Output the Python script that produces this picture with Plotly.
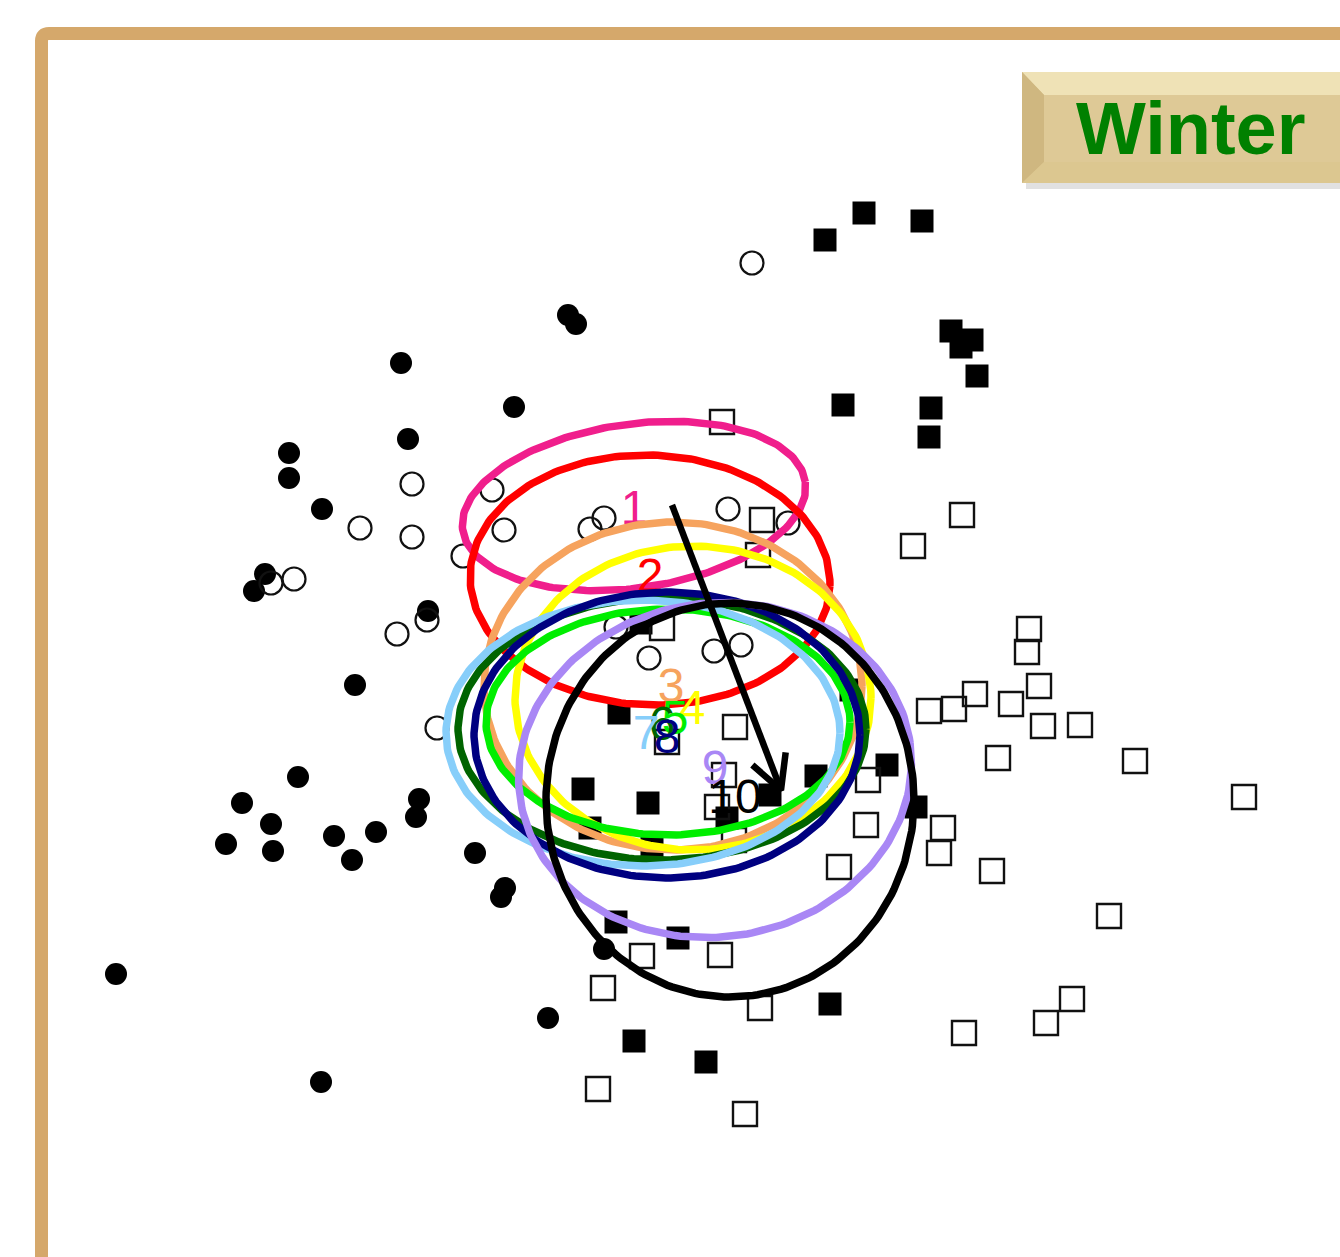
import numpy as np
import plotly.graph_objects as go

W, H = 1340, 1257
OFF = 0  # body margin removed via post_script, so plot units equal screen pixels

# ---------------- data (plot units) ----------------
filled_circle_x = [568, 576, 401, 514, 408, 289, 289, 322, 265, 254, 428, 355, 298, 242, 419, 416,
                   271, 226, 273, 334, 352, 376, 475, 505, 501, 604, 116, 548, 321]
filled_circle_y = [315, 324, 363, 407, 439, 453, 478, 509, 574, 591, 611, 685, 777, 803, 799, 817,
                   824, 844, 851, 836, 860, 832, 853, 888, 897, 949, 974, 1018, 1082]

open_circle_x = [752, 412, 492, 360, 412, 504, 590, 604, 728, 788, 463, 271, 294, 397, 427,
                 616, 649, 714, 741, 437]
open_circle_y = [263, 484, 490, 528, 537, 530, 529, 518, 509, 523, 556, 583, 579, 634, 620,
                 627, 658, 651, 645, 728]

filled_square_x = [864, 825, 922, 951, 972, 961, 977, 843, 931, 929, 641, 619, 583, 648, 590,
                   652, 727, 770, 816, 887, 916, 851, 616, 678, 830, 634, 706]
filled_square_y = [213, 240, 221, 331, 340, 347, 376, 405, 408, 437, 623, 713, 789, 803, 828,
                   848, 818, 795, 776, 765, 807, 690, 922, 938, 1004, 1041, 1062]

open_square_x = [722, 762, 758, 962, 913, 662, 1029, 1027, 929, 954, 975, 1011, 1039, 1043,
                 1080, 998, 1135, 1244, 735, 667, 724, 717, 734, 866, 868, 943, 939, 992,
                 839, 1109, 642, 720, 603, 760, 964, 1046, 1072, 598, 745]
open_square_y = [422, 520, 555, 515, 546, 628, 629, 652, 711, 709, 694, 704, 686, 726,
                 725, 758, 761, 797, 727, 742, 775, 807, 840, 825, 780, 828, 853, 871,
                 867, 916, 956, 955, 988, 1008, 1033, 1023, 999, 1089, 1114]

# ellipses 1..10
ell_labels = ["1", "2", "3", "4", "5", "6", "7", "8", "9", "10"]
ell_cx = [634, 650, 673, 693, 668, 662, 643, 667, 715, 730]
ell_cy = [506, 580, 686, 698, 722, 729, 733, 735, 770, 800]
ell_a = [173, 180, 189, 178, 182, 204, 197, 193, 197, 184]
ell_b = [82, 125, 164, 152, 113, 131, 133, 143, 167, 197]
ell_angle = [-8, 2, 0, 0, 0, 0, 0, 0, -8, 0]
ell_colors = ["#F01E8C", "#FF0000", "#F6A35E", "#FFFF00", "#00EE00", "#006400",
              "#87CEFA", "#000080", "#A987F5", "#000000"]
lab_x = [634, 650, 671, 692, 675, 662, 646, 667, 715, 735]
lab_y = [512, 580, 690, 712, 722, 728, 737, 741, 772, 801]

# trajectory arrow (start -> end)
arrow_start = (672, 505)
arrow_end = (781, 790)

fig = go.Figure()

# points
fig.add_trace(go.Scatter(x=filled_circle_x, y=filled_circle_y, mode="markers",
                         marker=dict(symbol="circle", size=22, color="black",
                                     line=dict(width=0)), hoverinfo="skip"))
fig.add_trace(go.Scatter(x=open_circle_x, y=open_circle_y, mode="markers",
                         marker=dict(symbol="circle-open", size=23, color="#111111",
                                     line=dict(width=2.2)), hoverinfo="skip"))
fig.add_trace(go.Scatter(x=filled_square_x, y=filled_square_y, mode="markers",
                         marker=dict(symbol="square", size=23, color="black",
                                     line=dict(width=0)), hoverinfo="skip"))
fig.add_trace(go.Scatter(x=open_square_x, y=open_square_y, mode="markers",
                         marker=dict(symbol="square-open", size=24, color="#111111",
                                     line=dict(width=2.4)), hoverinfo="skip"))

# ellipses + labels
t = np.linspace(0, 2 * np.pi, 240)
for i in range(len(ell_labels)):
    th = np.deg2rad(ell_angle[i])
    ex = ell_a[i] * np.cos(t)
    ey = ell_b[i] * np.sin(t)
    xs = ell_cx[i] + ex * np.cos(th) - ey * np.sin(th)
    ys = ell_cy[i] + ex * np.sin(th) + ey * np.cos(th)
    fig.add_trace(go.Scatter(x=xs, y=ys, mode="lines",
                             line=dict(color=ell_colors[i], width=7.5),
                             hoverinfo="skip"))
    fig.add_trace(go.Scatter(x=[lab_x[i]], y=[lab_y[i]], mode="text",
                             text=[ell_labels[i]],
                             textfont=dict(family="Liberation Sans, Arial", size=48,
                                           color=ell_colors[i]),
                             hoverinfo="skip"))

# arrow shaft and head
sx, sy = arrow_start
exx, eyy = arrow_end
dx, dy = exx - sx, eyy - sy
L = np.hypot(dx, dy)
ux, uy = dx / L, dy / L
head_len, head_ang = 38, np.deg2rad(28)
arms = []
for s in (1, -1):
    c, si = np.cos(s * head_ang), np.sin(s * head_ang)
    rx = -(ux * c - uy * si)
    ry = -(ux * si + uy * c)
    arms.append((exx + head_len * rx, eyy + head_len * ry))
fig.add_trace(go.Scatter(x=[sx, exx], y=[sy, eyy], mode="lines",
                         line=dict(color="black", width=6.5), hoverinfo="skip"))
fig.add_trace(go.Scatter(x=[arms[0][0], exx, arms[1][0]], y=[arms[0][1], eyy, arms[1][1]],
                         mode="lines", line=dict(color="black", width=6.5),
                         hoverinfo="skip"))

shapes = []
# frame
shapes.append(dict(type="path", xref="x", yref="y",
                   path="M 41.5,1400 L 41.5,41 Q 41.5,33.5 49,33.5 L 1500,33.5",
                   line=dict(color="#D5A86B", width=13), layer="above"))
# Winter badge: shadow, bevels, face
shapes += [
    dict(type="rect", xref="x", yref="y", x0=1026, y0=178, x1=1400, y1=189,
         fillcolor="rgba(120,120,120,0.22)", line=dict(width=0), layer="above"),
    dict(type="rect", xref="x", yref="y", x0=1022, y0=72, x1=1400, y1=183,
         fillcolor="#D8C28A", line=dict(width=0), layer="above"),
    dict(type="path", xref="x", yref="y",
         path="M 1022,72 L 1400,72 L 1400,95 L 1044,95 Z",
         fillcolor="#EFE2B6", line=dict(width=0), layer="above"),
    dict(type="path", xref="x", yref="y",
         path="M 1022,72 L 1044,95 L 1044,162 L 1022,183 Z",
         fillcolor="#CFB780", line=dict(width=0), layer="above"),
    dict(type="path", xref="x", yref="y",
         path="M 1022,183 L 1044,162 L 1400,162 L 1400,183 Z",
         fillcolor="#DCC790", line=dict(width=0), layer="above"),
    dict(type="rect", xref="x", yref="y", x0=1044, y0=95, x1=1400, y1=162,
         fillcolor="#DEC996", line=dict(width=0), layer="above"),
]

fig.update_layout(
    width=W, height=H,
    margin=dict(l=0, r=0, t=0, b=0),
    paper_bgcolor="white", plot_bgcolor="white",
    showlegend=False,
    xaxis=dict(range=[OFF, W + OFF], visible=False, showgrid=False, zeroline=False, fixedrange=True),
    yaxis=dict(range=[H + OFF, OFF], visible=False, showgrid=False, zeroline=False, fixedrange=True),
    shapes=shapes,
    annotations=[dict(x=1191, y=128, xref="x", yref="y", text="<b>Winter</b>",
                      showarrow=False, xanchor="center", yanchor="middle",
                      font=dict(family="Liberation Sans, Arial", size=74, color="#008000"))],
)

fig.write_html("out.html", config={"displayModeBar": False},
               post_script="document.body.style.margin='0';document.body.style.overflow='hidden';")
